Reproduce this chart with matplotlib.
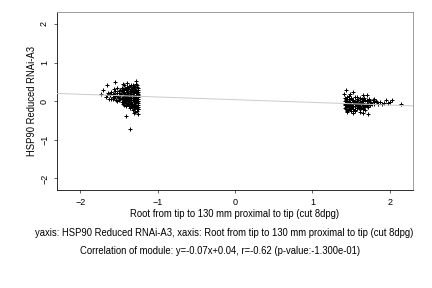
import matplotlib
matplotlib.use("Agg")
import matplotlib.pyplot as plt

plt.rcParams["font.family"] = ["Liberation Sans", "DejaVu Sans"]

# left cluster (cut position around -1.35)
left_x = [
    -1.27, -1.31, -1.35, -1.40,
    -1.25, -1.29, -1.33, -1.37, -1.42, -1.46,
    -1.26, -1.30, -1.34, -1.38, -1.43, -1.48, -1.56,
    -1.25, -1.28, -1.32, -1.36, -1.40, -1.45, -1.50, -1.60,
    -1.26, -1.30, -1.34, -1.38, -1.42, -1.47, -1.53, -1.58, -1.64,
    -1.25, -1.28, -1.32, -1.36, -1.40, -1.44, -1.49, -1.55, -1.61, -1.67,
    -1.26, -1.30, -1.34, -1.38, -1.42, -1.46, -1.51, -1.57, -1.63,
    -1.25, -1.28, -1.32, -1.36, -1.40, -1.44, -1.48, -1.54, -1.60,
    -1.26, -1.30, -1.34, -1.38, -1.42, -1.46, -1.52,
    -1.25, -1.29, -1.33, -1.37, -1.41, -1.45,
    -1.26, -1.30, -1.34, -1.38, -1.43,
    -1.25, -1.29, -1.33, -1.37,
    -1.26, -1.31,
    # in-between rows
    -1.28, -1.32, -1.37, -1.44,
    -1.27, -1.31, -1.35, -1.40, -1.45, -1.52,
    -1.28, -1.32, -1.36, -1.41, -1.46, -1.55,
    -1.27, -1.31, -1.35, -1.39, -1.44, -1.50, -1.56, -1.62,
    -1.28, -1.32, -1.36, -1.40, -1.45, -1.52, -1.58, -1.65,
    -1.27, -1.31, -1.35, -1.39, -1.44, -1.50, -1.58,
    -1.28, -1.32, -1.36, -1.40, -1.44, -1.50,
    -1.27, -1.31, -1.35, -1.39, -1.44,
    -1.28, -1.32, -1.36, -1.41,
    -1.27, -1.32, -1.36,
    # outliers
    -1.66, -1.55, -1.28, -1.36, -1.41, -1.30, -1.27, -1.73, -1.70, -1.45, -1.39,
    -1.25, -1.26, -1.29,
]
left_y = [
    0.41, 0.39, 0.42, 0.38,
    0.35, 0.36, 0.34, 0.37, 0.33, 0.35,
    0.30, 0.31, 0.29, 0.32, 0.28, 0.30, 0.31,
    0.25, 0.26, 0.24, 0.27, 0.25, 0.23, 0.26, 0.24,
    0.20, 0.21, 0.19, 0.22, 0.20, 0.18, 0.21, 0.19, 0.22,
    0.15, 0.16, 0.14, 0.17, 0.15, 0.13, 0.16, 0.14, 0.17, 0.12,
    0.10, 0.11, 0.09, 0.12, 0.10, 0.08, 0.11, 0.09, 0.07,
    0.05, 0.06, 0.04, 0.07, 0.05, 0.03, 0.06, 0.04, 0.05,
    0.00, 0.01, -0.01, 0.02, 0.00, -0.02, 0.01,
    -0.05, -0.04, -0.06, -0.03, -0.05, -0.07,
    -0.10, -0.09, -0.11, -0.08, -0.10,
    -0.15, -0.14, -0.16, -0.13,
    -0.20, -0.19,
    0.44, 0.43, 0.40, 0.41,
    0.37, 0.38, 0.32, 0.36, 0.31, 0.33,
    0.28, 0.27, 0.22, 0.29, 0.26, 0.27,
    0.22, 0.23, 0.18, 0.24, 0.21, 0.22, 0.19, 0.20,
    0.12, 0.13, 0.08, 0.14, 0.11, 0.13, 0.12, 0.15,
    0.07, 0.08, 0.03, 0.09, 0.06, 0.08, 0.07,
    0.02, 0.03, -0.03, 0.04, 0.01, 0.03,
    -0.02, -0.07, -0.08, -0.06, -0.02,
    -0.12, -0.12, -0.13, -0.12,
    -0.17, -0.22, -0.18,
    0.42, 0.49, 0.52, -0.73, -0.39, -0.30, -0.25, 0.18, 0.29, 0.45, 0.47,
    -0.34, -0.21, -0.27,
]

# right cluster (cut position around 1.6)
right_x = [
    1.43, 1.47, 1.52, 1.58, 1.64, 1.70,
    1.42, 1.45, 1.49, 1.53, 1.57, 1.61, 1.65, 1.70, 1.75, 1.82, 1.88,
    1.43, 1.46, 1.50, 1.54, 1.58, 1.62, 1.66, 1.71, 1.76, 1.80, 1.85, 1.92,
    1.42, 1.45, 1.49, 1.53, 1.57, 1.61, 1.65, 1.69, 1.74, 1.79,
    1.43, 1.47, 1.51, 1.55, 1.59, 1.63, 1.67, 1.72,
    1.44, 1.48, 1.52, 1.57, 1.62, 1.68,
    1.45, 1.50, 1.55,
    # in-between rows
    1.42, 1.45, 1.50, 1.55, 1.61, 1.67, 1.73,
    1.44, 1.47, 1.51, 1.55, 1.59, 1.63, 1.68, 1.73, 1.78, 1.84,
    1.42, 1.47, 1.51, 1.55, 1.60, 1.64, 1.68, 1.72, 1.77,
    1.45, 1.49, 1.53, 1.57, 1.61, 1.65, 1.70,
    1.42, 1.46, 1.50, 1.55, 1.60, 1.65,
    # outliers
    1.44, 1.53, 1.66, 1.71, 1.79, 2.03, 2.14, 1.53, 1.66, 1.72,
    1.47, 1.58, 1.98, 1.95, 1.45, 1.41, 1.49, 1.90, 2.00, 1.62,
]
right_y = [
    0.05, 0.06, 0.04, 0.07, 0.05, 0.03,
    0.00, 0.01, -0.01, 0.02, 0.00, -0.02, 0.01, 0.00, -0.01, 0.01, -0.02,
    -0.05, -0.04, -0.06, -0.03, -0.05, -0.07, -0.04, -0.06, -0.05, -0.03, -0.06, -0.05,
    -0.10, -0.09, -0.11, -0.08, -0.10, -0.12, -0.09, -0.11, -0.10, -0.08,
    -0.15, -0.14, -0.16, -0.13, -0.15, -0.17, -0.14, -0.16,
    -0.20, -0.19, -0.21, -0.18, -0.20, -0.22,
    -0.25, -0.24, -0.26,
    0.08, 0.10, 0.09, 0.11, 0.08, 0.09, 0.06,
    0.03, -0.02, 0.03, -0.02, 0.02, -0.03, 0.03, 0.02, 0.03, -0.03,
    -0.07, -0.08, -0.12, -0.07, -0.08, -0.07, -0.13, -0.08, -0.07,
    -0.13, -0.17, -0.12, -0.17, -0.14, -0.12, -0.13,
    -0.18, -0.23, -0.17, -0.22, -0.18, -0.19,
    0.29, 0.24, 0.16, 0.16, 0.07, 0.03, -0.08, -0.31, -0.31, -0.34,
    0.14, 0.12, -0.04, 0.02, -0.28, 0.20, 0.18, -0.08, -0.02, -0.27,
]

slope = -0.07
intercept = 0.04
x_ticks = [-2, -1, 0, 1, 2]
y_ticks = [-2, -1, 0, 1, 2]

fig = plt.figure(figsize=(6, 4), dpi=72)
ax = fig.add_axes([0.132, 0.340, 0.824, 0.617])

ax.scatter(left_x + right_x, left_y + right_y, marker="+", s=22,
           color="black", linewidths=1.0, zorder=2)
xs = [-2.3, 2.3]
ax.plot(xs, [slope * v + intercept for v in xs], color="#cccccc", lw=1, zorder=3)

ax.set_xlim(-2.3, 2.3)
ax.set_ylim(-2.3, 2.3)
ax.set_xticks(x_ticks)
ax.set_yticks(y_ticks)
ax.tick_params(labelsize=9, length=3, width=0.6, direction="out", pad=5)
for lab in ax.get_yticklabels():
    lab.set_rotation(90)
    lab.set_va("center")
for side in ["top", "right"]:
    ax.spines[side].set_color("#888888")
for side in ax.spines:
    ax.spines[side].set_linewidth(0.8)

ax.set_xlabel("Root from tip to 130 mm proximal to tip (cut 8dpg)", fontsize=9.5, labelpad=2)
ax.set_ylabel("HSP90 Reduced RNAi-A3", fontsize=9.5, labelpad=3)

fig.text(0.52, 0.19, "yaxis: HSP90 Reduced RNAi-A3, xaxis: Root from tip to 130 mm proximal to tip (cut 8dpg)",
         ha="center", va="center", fontsize=9.5)
fig.text(0.51, 0.128, "Correlation of module: y=-0.07x+0.04, r=-0.62 (p-value:-1.300e-01)",
         ha="center", va="center", fontsize=9.5)

fig.savefig("out.png", dpi=72)
